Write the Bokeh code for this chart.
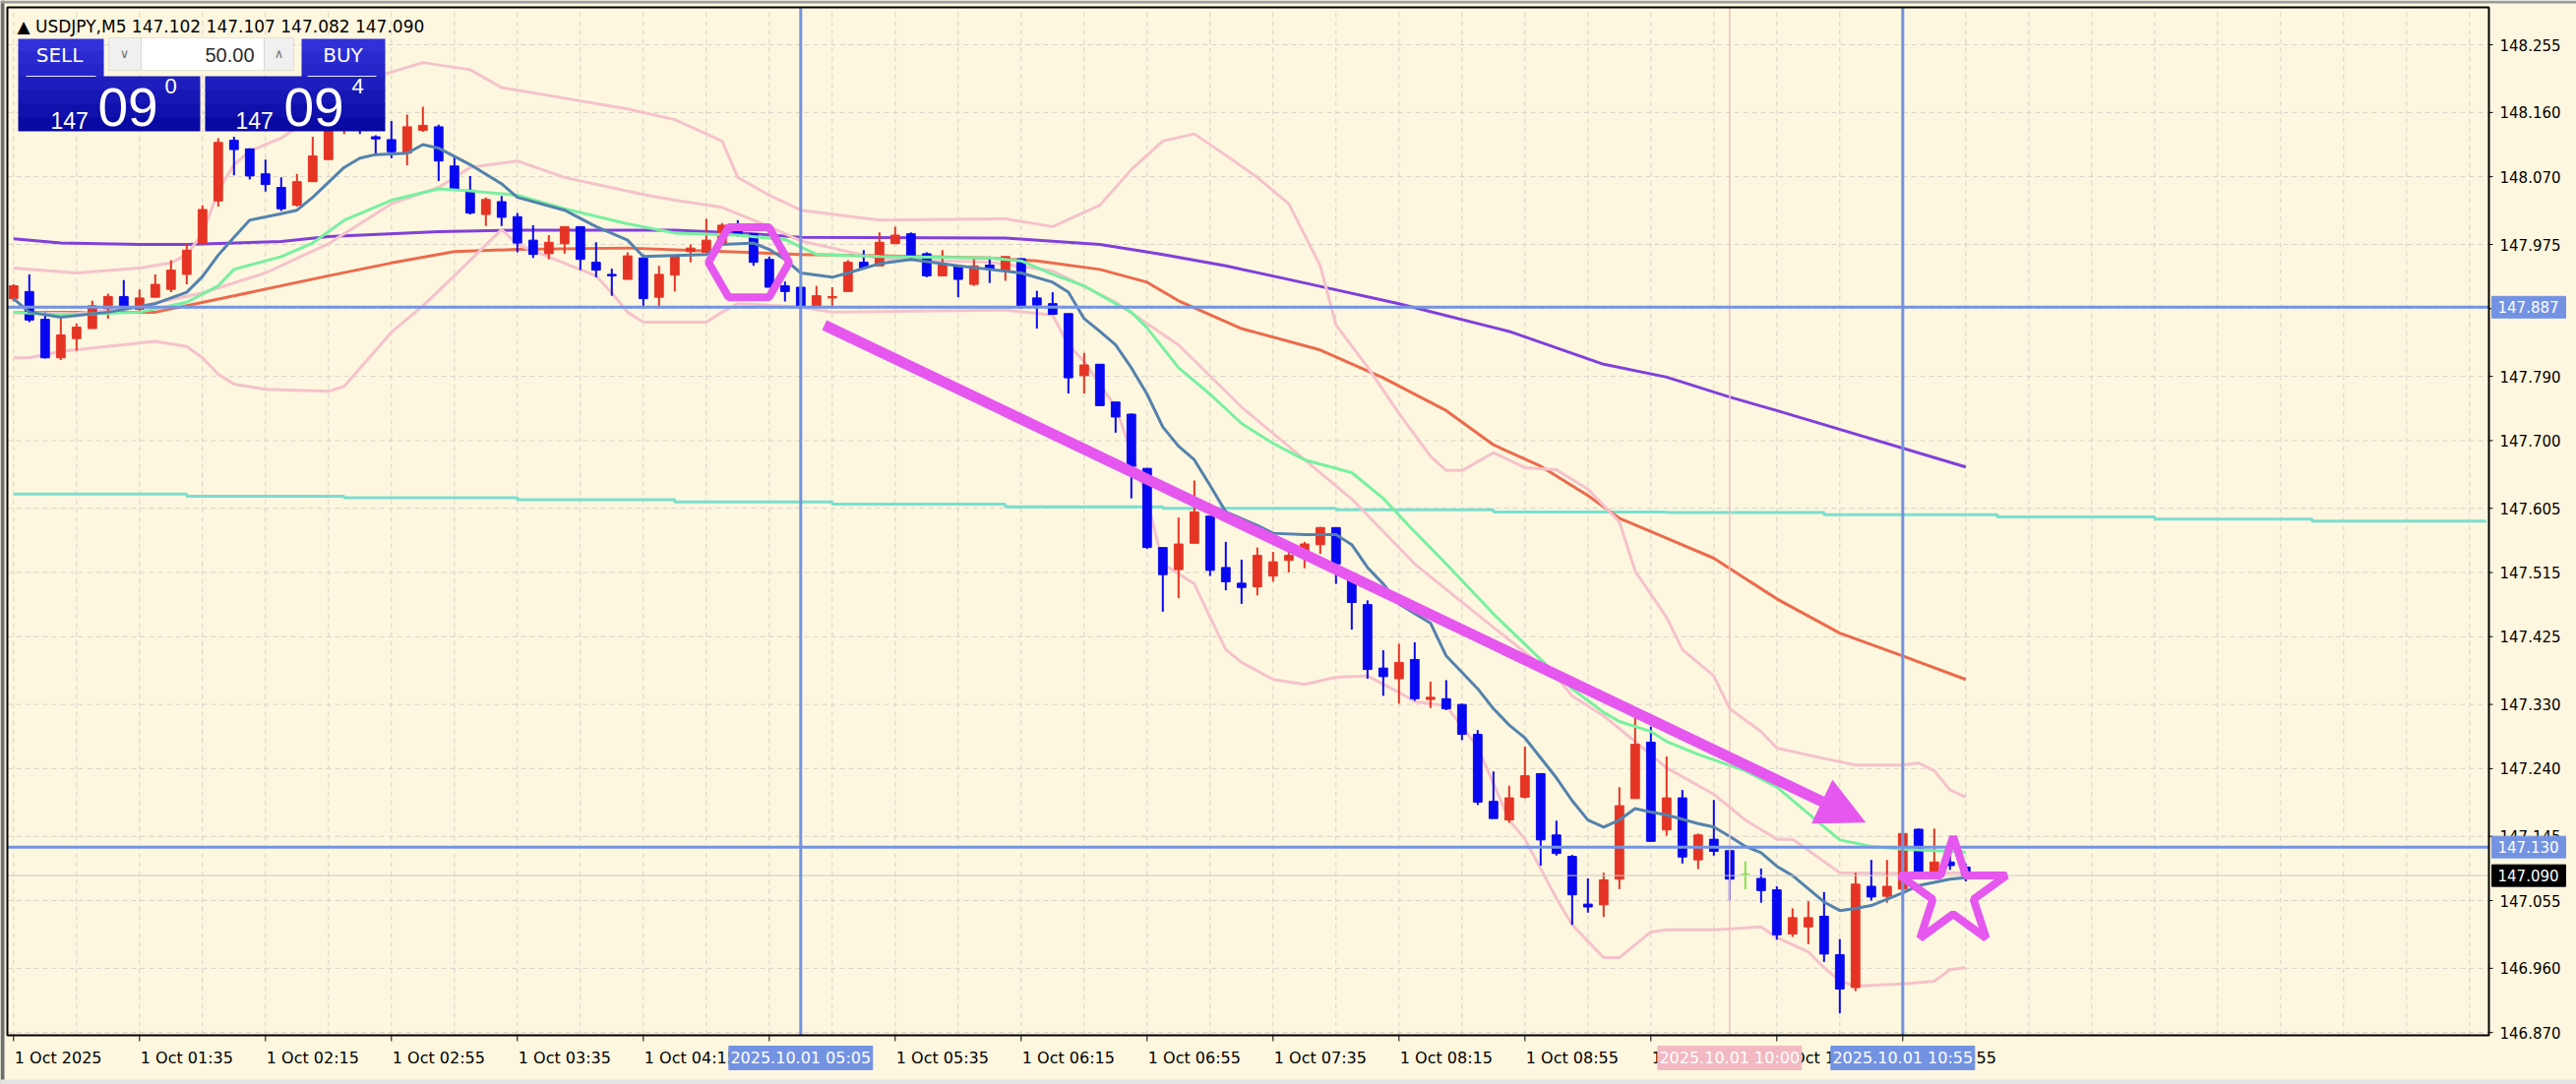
from bokeh.plotting import figure
from bokeh.models import Range1d, Label, BoxAnnotation, Arrow, NormalHead, ColumnDataSource
from bokeh.embed import file_html
from bokeh.resources import INLINE
from bokeh.core.properties import value

# ---------------- data (USDJPY M5, bar index 0 = first visible bar) ----------------
open_ = [147.899,147.909,147.870,147.816,147.843,147.857,147.885,147.902,147.884,147.901,
         147.912,147.933,147.976,148.036,148.121,148.109,148.074,148.055,148.030,148.063,
         148.094,148.138,148.160,148.126,148.122,148.103,148.135,148.140,148.085,148.051,
         148.017,148.035,148.014,147.981,147.962,147.976,148.000,147.950,147.933,147.926,
         147.956,147.901,147.932,147.965,147.964,147.977,148.000,147.990,147.954,147.917,
         147.915,147.889,147.900,147.909,147.950,147.945,147.976,147.990,147.962,147.931,
         147.944,147.919,147.946,147.938,147.955,147.900,147.892,147.878,147.791,147.807,
         147.754,147.737,147.661,147.550,147.519,147.556,147.594,147.522,147.500,147.495,
         147.510,147.532,147.538,147.554,147.578,147.508,147.470,147.381,147.366,147.393,
         147.337,147.338,147.330,147.288,147.194,147.168,147.200,147.233,147.147,147.117,
         147.050,147.049,147.085,147.198,147.277,147.154,147.199,147.112,147.141,147.125,
         147.092,147.086,147.070,147.008,147.018,147.033,146.979,146.933,147.075,147.061,
         147.071,147.155,147.095,147.109,147.102]
high = [147.919,147.933,147.880,147.871,147.864,147.896,147.906,147.925,147.912,147.933,
        147.953,147.977,148.030,148.124,148.126,148.110,148.094,148.069,148.074,148.126,
        148.147,148.170,148.175,148.128,148.148,148.157,148.168,148.143,148.099,148.071,
        148.041,148.043,148.019,148.002,147.988,148.000,148.000,147.978,147.941,147.964,
        147.961,147.945,147.958,147.975,148.011,148.005,148.009,147.990,147.958,147.923,
        147.915,147.917,147.915,147.953,147.967,147.992,148.000,147.992,147.964,147.967,
        147.945,147.956,147.958,147.958,147.956,147.910,147.908,147.878,147.823,147.807,
        147.754,147.738,147.661,147.550,147.592,147.644,147.594,147.558,147.533,147.550,
        147.544,147.546,147.558,147.579,147.578,147.508,147.476,147.406,147.415,147.417,
        147.362,147.364,147.331,147.294,147.236,147.216,147.271,147.233,147.167,147.119,
        147.086,147.094,147.214,147.314,147.299,147.257,147.210,147.149,147.196,147.125,
        147.110,147.100,147.075,147.044,147.054,147.067,147.001,147.094,147.112,147.112,
        147.150,147.156,147.156,147.118,147.107]
low = [147.895,147.866,147.815,147.813,147.826,147.857,147.871,147.887,147.881,147.901,
       147.908,147.919,147.976,148.028,148.072,148.066,148.049,148.022,148.028,148.063,
       148.094,148.130,148.130,148.099,148.096,148.086,148.133,148.064,148.053,148.017,
       148.001,148.001,147.964,147.956,147.954,147.962,147.939,147.929,147.903,147.926,
       147.885,147.885,147.909,147.950,147.964,147.975,147.986,147.945,147.915,147.895,
       147.867,147.887,147.887,147.909,147.942,147.945,147.976,147.954,147.929,147.931,
       147.901,147.917,147.921,147.924,147.885,147.857,147.877,147.766,147.766,147.749,
       147.711,147.619,147.548,147.460,147.479,147.556,147.510,147.490,147.471,147.483,
       147.502,147.515,147.521,147.541,147.499,147.435,147.366,147.342,147.331,147.335,
       147.325,147.322,147.280,147.189,147.170,147.164,147.198,147.104,147.118,147.021,
       147.038,147.032,147.071,147.198,147.138,147.146,147.107,147.099,147.118,147.055,
       147.071,147.052,147.000,147.004,146.994,146.969,146.897,146.928,147.055,147.052,
       147.038,147.095,147.095,147.098,147.082]
close = [147.917,147.869,147.816,147.848,147.859,147.889,147.902,147.887,147.900,147.919,
         147.939,147.967,148.024,148.118,148.108,148.071,148.059,148.025,148.063,148.099,
         148.138,148.160,148.140,148.123,148.105,148.140,148.142,148.092,148.053,148.019,
         148.038,148.013,147.977,147.961,147.978,148.000,147.954,147.939,147.931,147.959,
         147.899,147.933,147.958,147.970,147.981,148.002,147.990,147.950,147.915,147.909,
         147.887,147.903,147.902,147.950,147.942,147.978,147.988,147.959,147.931,147.946,
         147.926,147.945,147.941,147.958,147.887,147.890,147.877,147.788,147.806,147.749,
         147.733,147.664,147.550,147.512,147.555,147.600,147.518,147.502,147.494,147.539,
         147.530,147.539,147.555,147.578,147.527,147.473,147.379,147.369,147.389,147.338,
         147.340,147.324,147.288,147.193,147.170,147.199,147.230,147.140,147.121,147.063,
         147.046,147.084,147.188,147.274,147.138,147.199,147.116,147.147,147.124,147.085,
         147.092,147.069,147.007,147.031,147.031,146.980,146.931,147.078,147.060,147.075,
         147.149,147.095,147.109,147.104,147.090]
bars = list(range(len(close)))

# fast MA (steel blue)
ma_fast_x = [0,1,3,6,9,11,12,13,14,15,17,18,19,21,22,23,25,26,27,29,31,32,35,37,39,40,44,45,47,48,49,50,52,53,55,57,60,62,64,66,67,68,69,70,71,72,73,74,75,76,77,79,80,82,84,85,86,87,88,90,91,93,94,95,96,97,98,99,100,101,102,103,104,105,107,108,109,110,111,112,113,115,116,117,118,119,120,121,123,124]
ma_fast_y = [147.899,147.880,147.873,147.880,147.892,147.908,147.930,147.960,147.985,148.009,148.018,148.023,148.041,148.083,148.096,148.101,148.103,148.115,148.110,148.087,148.060,148.041,148.023,148.000,147.981,147.958,147.961,147.975,147.977,147.968,147.954,147.935,147.929,147.935,147.948,147.954,147.945,147.940,147.935,147.922,147.908,147.871,147.853,147.834,147.802,147.765,147.719,147.692,147.673,147.637,147.600,147.581,147.570,147.568,147.568,147.554,147.522,147.499,147.471,147.444,147.398,147.352,147.324,147.301,147.283,147.255,147.227,147.195,147.168,147.158,147.168,147.184,147.179,147.175,147.163,147.158,147.145,147.131,147.122,147.103,147.090,147.053,147.041,147.044,147.048,147.057,147.066,147.076,147.085,147.087]
# medium MA (light green)
ma_mid_x = [0,3,8,11,13,14,17,19,21,24,27,29,32,35,39,42,46,49,51,55,62,64,66,68,70,71,72,73,74,76,78,80,82,85,87,89,91,94,97,99,101,102,104,105,107,110,112,114,116,118,120,124]
ma_mid_y = [147.880,147.876,147.880,147.894,147.917,147.940,147.958,147.977,148.009,148.037,148.053,148.050,148.044,148.025,148.004,147.991,147.988,147.982,147.961,147.958,147.956,147.952,147.933,147.917,147.892,147.880,147.858,147.830,147.802,147.765,147.724,147.696,147.673,147.655,147.619,147.572,147.527,147.457,147.393,147.352,147.319,147.306,147.292,147.278,147.260,147.237,147.214,147.177,147.140,147.131,147.127,147.123]
# slow MA (orange)
ma_slow_x = [0,9,14,20,24,28,32,39,50,55,62,65,69,72,74,78,83,87,91,94,97,100,102,105,108,112,116,120,124]
ma_slow_y = [147.880,147.880,147.903,147.931,147.949,147.965,147.968,147.970,147.961,147.959,147.956,147.952,147.940,147.922,147.896,147.857,147.827,147.788,147.742,147.694,147.664,147.623,147.591,147.563,147.535,147.478,147.430,147.398,147.365]
# long MA (purple)
ma_long_x = [0,3,8,11,17,20,27,32,42,47,50,63,69,73,77,82,88,95,101,105,109,112,124]
ma_long_y = [147.983,147.977,147.975,147.975,147.979,147.986,147.993,147.995,147.995,147.990,147.985,147.984,147.975,147.961,147.945,147.921,147.892,147.853,147.807,147.789,147.761,147.742,147.663]
# higher-timeframe MA (teal, stepped, drawn to the right edge)
ma_htf_x = [0,11,21,32,42,52,63,73,84,94,105,115,126,136,146,157]
ma_htf_y = [147.625,147.622,147.620,147.617,147.614,147.611,147.607,147.605,147.603,147.600,147.599,147.596,147.593,147.590,147.587,147.585]
# Bollinger bands (pink)
bb_up_x = [0,4,8,10,11,12,13,14,15,17,20,23,26,29,31,35,39,42,45,46,48,50,55,63,66,69,71,73,75,77,79,81,83,84,86,88,90,91,92,94,96,98,100,102,103,105,106,108,109,111,112,114,117,120,121,122,123,124]
bb_up_y = [147.942,147.935,147.942,147.949,147.961,147.990,148.050,148.087,148.106,148.124,148.170,148.210,148.230,148.220,148.195,148.180,148.165,148.150,148.120,148.069,148.044,148.023,148.009,148.011,148.000,148.030,148.080,148.120,148.130,148.100,148.069,148.032,147.945,147.862,147.803,147.738,147.678,147.658,147.658,147.683,147.662,147.659,147.632,147.586,147.517,147.452,147.407,147.370,147.324,147.292,147.269,147.259,147.245,147.245,147.248,147.237,147.210,147.200]
bb_mid_x = [0,4,8,12,16,20,24,27,29,32,35,40,42,45,48,50,55,62,66,70,74,78,85,89,94,96,98,99,101,103,105,108,110,112,113,116,120,124]
bb_mid_y = [147.879,147.878,147.888,147.907,147.935,147.976,148.032,148.055,148.083,148.092,148.069,148.045,148.037,148.027,148.000,147.980,147.955,147.950,147.938,147.894,147.834,147.747,147.618,147.527,147.438,147.403,147.369,147.342,147.314,147.278,147.241,147.204,147.168,147.141,147.141,147.094,147.093,147.094]
bb_low_x = [0,1,3,9,11,12,13,14,16,20,21,24,26,28,31,32,37,38,39,40,44,45,46,50,52,63,66,67,68,70,71,72,73,75,76,77,78,80,82,84,86,88,89,91,93,95,96,98,99,101,102,103,104,105,108,111,112,114,115,116,117,120,122,123,124]
bb_low_y = [147.816,147.816,147.825,147.839,147.832,147.816,147.793,147.779,147.772,147.769,147.776,147.852,147.889,147.931,147.996,147.975,147.931,147.907,147.880,147.866,147.866,147.880,147.892,147.887,147.880,147.883,147.876,147.834,147.811,147.747,147.683,147.618,147.527,147.499,147.452,147.407,147.389,147.365,147.358,147.368,147.370,147.347,147.334,147.328,147.270,147.168,147.141,147.058,147.021,146.975,146.975,146.993,147.011,147.014,147.014,147.018,147.003,146.983,146.961,146.942,146.935,146.938,146.942,146.958,146.961]

# chart objects
hline_prices = [147.887, 147.130]
bid_price = 147.090
vline_bars = [50, 120]
vline_labels = ["2025.10.01 05:05", "2025.10.01 10:55"]
pink_vline_bar = 109
pink_vline_label = "2025.10.01 10:00"
hexagon_anchor = (46.7, 147.950)
star_anchor = (123.2, 147.066)
arrow_start = (51.5, 147.862)
arrow_end = (117.6, 147.165)

# axis ticks
price_ticks = [148.255,148.160,148.070,147.975,147.885,147.790,147.700,147.605,147.515,
               147.425,147.330,147.240,147.145,147.055,146.960,146.870]
time_tick_bars = list(range(0, 121, 8))
time_tick_labels = ["1 Oct 2025","1 Oct 01:35","1 Oct 02:15","1 Oct 02:55","1 Oct 03:35",
                    "1 Oct 04:15","1 Oct 04:55","1 Oct 05:35","1 Oct 06:15","1 Oct 06:55",
                    "1 Oct 07:35","1 Oct 08:15","1 Oct 08:55","1 Oct 09:35","1 Oct 10:15",
                    "1 Oct 10:55"]
title_text = "\u25b2 USDJPY,M5  147.102 147.107 147.082 147.090"

# ---------------- layout / scale constants ----------------
BG = "#FEF7DF"
BULL = "#E53424"
BEAR = "#0808F0"
DOJI = "#7FE04A"
LINE_BLUE = "#7393E2"
MAG = "#E557EE"
PINK = "#F5C2CB"
GRID = "#D5D2C8"
FONT = "DejaVu Sans"

FIG_W, FIG_H = 2618, 1102          # canvas fills the window from page (0, 0)
PAGE_OFF = 0
PX_PER_BAR = 16.0                  # horizontal scale
BAR0_PAGE_X = 13.3                 # page x of bar 0
PX_PER_PRICE = 725.0               # vertical scale
REF_PRICE, REF_PAGE_Y = 148.255, 45.0

def bx(page_x):     # page x -> bar coordinate
    return (page_x - BAR0_PAGE_X) / PX_PER_BAR
def pr(page_y):     # page y -> price coordinate
    return REF_PRICE - (page_y - REF_PAGE_Y) / PX_PER_PRICE

x_start, x_end = bx(PAGE_OFF), bx(PAGE_OFF + FIG_W)
y_top, y_bot = pr(PAGE_OFF), pr(PAGE_OFF + FIG_H)

AREA_L, AREA_R = bx(7), bx(2529)          # chart area borders
AREA_T, AREA_B = pr(7), pr(1052)

p = figure(width=FIG_W, height=FIG_H, x_range=Range1d(x_start, x_end), y_range=Range1d(y_bot, y_top),
           output_backend="svg", toolbar_location=None,
           x_axis_location=None, y_axis_location=None,
           min_border=0, min_border_left=0, min_border_right=0, min_border_top=0, min_border_bottom=0)
p.background_fill_color = BG
p.border_fill_color = BG
p.outline_line_color = None
p.xgrid.visible = False
p.ygrid.visible = False

# window frame edges
p.quad(left=[x_start], right=[bx(4)], top=[y_top], bottom=[y_bot], fill_color="#6E6E6E", line_color=None)
p.quad(left=[x_start], right=[x_end], top=[y_top], bottom=[pr(3)], fill_color="#9C9C9C", line_color=None)
p.quad(left=[x_start], right=[x_end], top=[pr(1097)], bottom=[y_bot], fill_color="#E4E4E4", line_color=None)

# grid (dashed) inside the chart area
vg = list(range(0, 157, 4))
p.segment(x0=vg, y0=[AREA_B] * len(vg), x1=vg, y1=[AREA_T] * len(vg),
          line_color=GRID, line_width=1, line_dash="5 4")
p.segment(x0=[AREA_L] * len(price_ticks), y0=price_ticks, x1=[AREA_R] * len(price_ticks), y1=price_ticks,
          line_color=GRID, line_width=1, line_dash="5 4")

# ---------------- indicators ----------------
p.step(ma_htf_x, ma_htf_y, mode="after", line_color="#7ADFD0", line_width=3)
p.line(ma_long_x, ma_long_y, line_color="#8040DA", line_width=3)
p.line(ma_slow_x, ma_slow_y, line_color="#EC6A4C", line_width=3)
for bxs, bys in ((bb_up_x, bb_up_y), (bb_mid_x, bb_mid_y), (bb_low_x, bb_low_y)):
    p.line(bxs, bys, line_color=PINK, line_width=3)

# ---------------- candles ----------------
colors = [BULL if c > o else (BEAR if c < o else DOJI) for o, c in zip(open_, close)]
src = ColumnDataSource(dict(x=bars, h=high, l=low,
                            top=[max(o, c) for o, c in zip(open_, close)],
                            bot=[min(o, c) for o, c in zip(open_, close)], color=colors))
p.segment(x0="x", y0="l", x1="x", y1="h", line_color="color", line_width=2, source=src)
p.vbar(x="x", width=0.55, top="top", bottom="bot", fill_color="color", line_color="color",
       line_width=1, source=src)

p.line(ma_mid_x, ma_mid_y, line_color="#78F0A0", line_width=3)
p.line(ma_fast_x, ma_fast_y, line_color="#5382AD", line_width=3)

# ---------------- chart objects ----------------
p.segment(x0=[AREA_L], y0=[bid_price], x1=[AREA_R], y1=[bid_price], line_color="#C9C9C9", line_width=1)
p.segment(x0=[pink_vline_bar], y0=[AREA_B], x1=[pink_vline_bar], y1=[AREA_T], line_color="#F2BCC4", line_width=1.5)
p.segment(x0=[AREA_L] * 2, y0=hline_prices, x1=[AREA_R] * 2, y1=hline_prices, line_color=LINE_BLUE, line_width=3)
p.segment(x0=vline_bars, y0=[AREA_B] * 2, x1=vline_bars, y1=[AREA_T] * 2, line_color=LINE_BLUE, line_width=3)

p.scatter([hexagon_anchor[0]], [hexagon_anchor[1]], marker="hex", size=82, fill_color=None,
          line_color=MAG, line_width=8)
p.scatter([star_anchor[0]], [star_anchor[1]], marker="star", size=114, fill_color=None,
          line_color=MAG, line_width=8)
p.add_layout(Arrow(x_start=arrow_start[0], y_start=arrow_start[1], x_end=arrow_end[0], y_end=arrow_end[1],
                   line_color=MAG, line_width=11,
                   end=NormalHead(size=48, fill_color=MAG, line_color=MAG, line_width=1)))

# chart border
p.quad(left=[AREA_L], right=[AREA_R], top=[AREA_T], bottom=[AREA_B], fill_color=None,
       line_color="black", line_width=2)

# ---------------- price scale ----------------
tick_len_x = 4 / PX_PER_BAR
p.segment(x0=[AREA_R] * len(price_ticks), y0=price_ticks, x1=[AREA_R + tick_len_x] * len(price_ticks),
          y1=price_ticks, line_color="black", line_width=1)
p.text(x=[AREA_R + 11 / PX_PER_BAR] * len(price_ticks), y=price_ticks,
       text=["%.3f" % t for t in price_ticks], text_font=value(FONT), text_font_size="15px",
       text_color="black", text_baseline="middle", text_align="left")

box_h = 11 / PX_PER_PRICE
box_prices = hline_prices + [bid_price]
box_cols = [LINE_BLUE, LINE_BLUE, "black"]
p.quad(left=[bx(2532)] * 3, right=[bx(2607)] * 3, top=[v + box_h for v in box_prices],
       bottom=[v - box_h for v in box_prices], fill_color=box_cols, line_color=box_cols)
p.text(x=[bx(2538)] * 3, y=box_prices, text=["%.3f" % v for v in box_prices], text_font=value(FONT),
       text_font_size="15px", text_color="white", text_baseline="middle", text_align="left")

# ---------------- time scale ----------------
tick_len_y = 6 / PX_PER_PRICE
p.segment(x0=time_tick_bars, y0=[AREA_B] * len(time_tick_bars), x1=time_tick_bars,
          y1=[AREA_B - tick_len_y] * len(time_tick_bars), line_color="black", line_width=1)
p.text(x=[t + 1 / PX_PER_BAR for t in time_tick_bars], y=[pr(1075)] * len(time_tick_bars),
       text=time_tick_labels, text_font=value(FONT), text_font_size="16px", text_color="black",
       text_baseline="middle", text_align="left")

tb_bars = [vline_bars[0], pink_vline_bar, vline_bars[1]]
tb_text = [vline_labels[0], pink_vline_label, vline_labels[1]]
tb_cols = [LINE_BLUE, "#F2B9C2", LINE_BLUE]
half_w = 73 / PX_PER_BAR
p.quad(left=[b - half_w for b in tb_bars], right=[b + half_w for b in tb_bars],
       top=[pr(1063)] * 3, bottom=[pr(1087)] * 3, fill_color=tb_cols, line_color=tb_cols)
p.text(x=tb_bars, y=[pr(1075)] * 3, text=tb_text, text_font=value(FONT), text_font_size="16px",
       text_color="white", text_baseline="middle", text_align="center")

# ---------------- one-click trading panel + title (screen coordinates) ----------------
def sx(px):
    return px - PAGE_OFF
def sy(py):
    return PAGE_OFF + FIG_H - py

def box(xa, xb, ya, yb, fill, line=None, lw=1):
    p.add_layout(BoxAnnotation(left=sx(xa), right=sx(xb), top=sy(ya), bottom=sy(yb),
                               left_units="screen", right_units="screen",
                               top_units="screen", bottom_units="screen",
                               fill_color=fill, fill_alpha=1, line_color=line, line_width=lw))

def grad(t):
    a, b = (52, 52, 222), (6, 6, 158)
    return "#%02x%02x%02x" % tuple(int(round(a[k] + (b[k] - a[k]) * t)) for k in range(3))

def gradient_L(sa, sb, ba, bb):
    ys = [39, 52, 65, 77, 91, 105, 119, 133]
    for k in range(len(ys) - 1):
        ya, yb = ys[k], ys[k + 1]
        t = ((ya + yb) / 2 - 39) / (133 - 39)
        xa, xb = (sa, sb) if yb <= 77 else (ba, bb)
        box(xa, xb, ya, min(yb + 0.7, 133), grad(t))

gradient_L(18, 105, 18, 203)
gradient_L(306, 391, 208, 391)
box(110, 143, 38, 71, "#F0F0F0", "#ABABAB")
box(143, 268, 38, 71, "white", "#ABABAB")
box(268, 298, 38, 71, "#F0F0F0", "#ABABAB")
box(26, 97, 76.5, 77.5, "#E8E8FF")
box(312, 382, 76.5, 77.5, "#E8E8FF")

def txt(x, y, s, size, color="white", font=FONT, align="left"):
    p.add_layout(Label(x=sx(x), y=sy(y), x_units="screen", y_units="screen", text=s,
                       text_font=font, text_font_size=size, text_color=color,
                       text_align=align, text_baseline="middle"))

txt(17, 26, title_text, "17px", color="black")
txt(60, 55, "SELL", "20px", align="center")
txt(348, 55, "BUY", "20px", align="center")
txt(258, 55, "50.00", "20px", color="#2A2A2A", font="Liberation Sans", align="right")
txt(126, 54, "\u2228", "13px", color="#707070", align="center")
txt(283, 54, "\u2227", "13px", color="#707070", align="center")
txt(51, 122, "147", "23px", font="Liberation Sans")
txt(99, 108, "09", "55px", font="Liberation Sans")
txt(167, 87, "0", "22px", font="Liberation Sans")
txt(239, 122, "147", "23px", font="Liberation Sans")
txt(288, 108, "09", "55px", font="Liberation Sans")
txt(357, 87, "4", "22px", font="Liberation Sans")

open("out.html", "w").write(file_html(p, INLINE))
